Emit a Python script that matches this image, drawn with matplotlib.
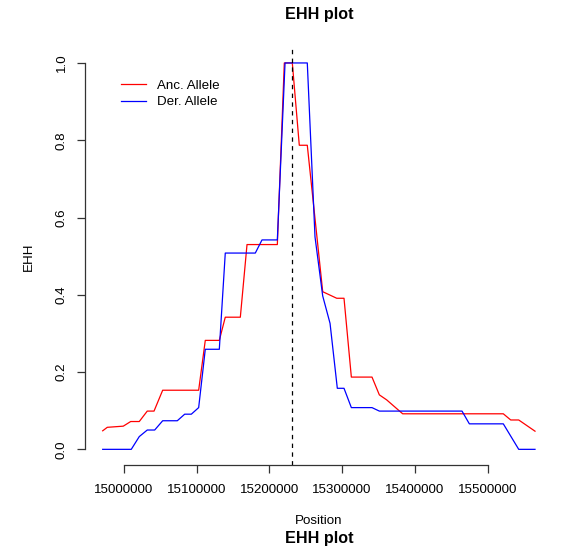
import matplotlib
matplotlib.use("Agg")
import matplotlib.pyplot as plt
from matplotlib.lines import Line2D

plt.rcParams['font.family'] = ['Liberation Sans', 'DejaVu Sans']

# Ancestral allele EHH
anc_pos = [14970700, 14977000, 14999000, 15009200, 15021000, 15032000, 15041300,
           15053200, 15102700, 15111800, 15131100, 15139300, 15160000, 15169200,
           15210900, 15220500, 15231500, 15241100, 15252100, 15273300, 15292600,
           15302600, 15312700, 15341100, 15351200, 15361300, 15383300, 15521700,
           15531900, 15542900, 15565300]
anc_ehh = [0.048, 0.057, 0.060, 0.072, 0.072, 0.099, 0.099,
           0.153, 0.153, 0.282, 0.282, 0.342, 0.342, 0.530,
           0.530, 1.000, 1.000, 0.787, 0.787, 0.408, 0.391,
           0.391, 0.187, 0.187, 0.141, 0.128, 0.092, 0.092,
           0.076, 0.076, 0.047]

# Derived allele EHH
der_pos = [14970700, 15010000, 15021000, 15032000, 15042200, 15053200, 15073300,
           15083500, 15092600, 15102700, 15111800, 15131100, 15139300, 15180600,
           15189800, 15210900, 15221500, 15252100, 15262700, 15273300, 15283400,
           15293400, 15302600, 15312700, 15341100, 15351200, 15464900, 15475000,
           15521700, 15542900, 15565300]
der_ehh = [0.0, 0.0, 0.033, 0.050, 0.050, 0.074, 0.074,
           0.091, 0.091, 0.108, 0.259, 0.259, 0.508, 0.508,
           0.542, 0.542, 1.000, 1.000, 0.550, 0.397, 0.326,
           0.158, 0.158, 0.108, 0.108, 0.099, 0.099, 0.066,
           0.066, 0.0, 0.0]

focal_pos = 15231500
x_ticks = [15000000, 15100000, 15200000, 15300000, 15400000, 15500000]
y_ticks = [0.0, 0.2, 0.4, 0.6, 0.8, 1.0]
series_labels = ["Anc. Allele", "Der. Allele"]
series_colors = ["#FF0000", "#0000FF"]

W, H = 574, 546
fig = plt.figure(figsize=(W / 100, H / 100), dpi=100)
left, right, top, bottom = 85.4, 552.3, 47.5, 464.8
ax = fig.add_axes([left / W, 1 - bottom / H, (right - left) / W, (bottom - top) / H])

xmin, xmax = min(anc_pos + der_pos), max(anc_pos + der_pos)
pad = 0.04 * (xmax - xmin)
ax.set_xlim(xmin - pad, xmax + pad)
ax.set_ylim(-0.04, 1.04)

ax.plot(anc_pos, anc_ehh, color=series_colors[0], lw=0.9)
ax.plot(der_pos, der_ehh, color=series_colors[1], lw=0.9)
ax.axvline(focal_pos, color='black', lw=0.9, linestyle=(0, (3.5, 3.5)))

for s in ['top', 'right']:
    ax.spines[s].set_visible(False)
ax.spines['bottom'].set_bounds(x_ticks[0], x_ticks[-1])
ax.spines['left'].set_bounds(y_ticks[0], y_ticks[-1])
for s in ['bottom', 'left']:
    ax.spines[s].set_linewidth(0.9)
    ax.spines[s].set_color('#333333')

ax.set_xticks(x_ticks)
ax.set_xticklabels([str(t) for t in x_ticks])
ax.set_yticks(y_ticks)
ax.set_yticklabels([f"{t:.1f}" for t in y_ticks], rotation=90, va='center')
ax.tick_params(axis='both', length=6.1, width=0.9, color='#333333', labelsize=9.6)
ax.tick_params(axis='x', pad=8.0)
ax.tick_params(axis='y', pad=6.5)

fig.text(319 / W, 1 - 15 / H, "EHH plot", ha='center', va='center',
         fontsize=11.6, fontweight='bold')
fig.text(319 / W, 1 - 521 / H, "Position", ha='center', va='center', fontsize=9.6)
fig.text(319 / W, 1 - 538 / H, "EHH plot", ha='center', va='center',
         fontsize=11.6, fontweight='bold')
fig.text(29.3 / W, 1 - 256.5 / H, "EHH", ha='center', va='center',
         fontsize=9.6, rotation=90)

handles = [Line2D([], [], color=c, lw=0.9) for c in series_colors]
ax.legend(handles, series_labels, loc='upper left',
          bbox_to_anchor=(121 / W, 1 - 79.8 / H), bbox_transform=fig.transFigure,
          frameon=False, borderpad=0, borderaxespad=0, handlelength=1.85,
          handletextpad=0.88, labelspacing=0.29, fontsize=9.6)

fig.savefig("out.png", dpi=100)
